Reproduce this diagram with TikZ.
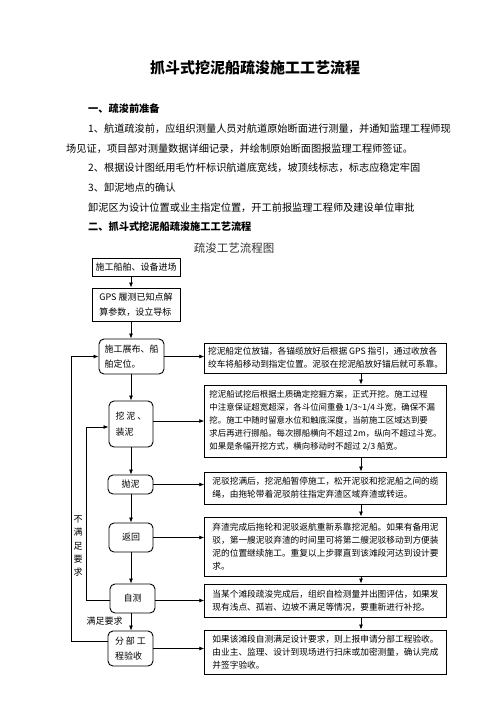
\documentclass[tikz,border=0pt]{standalone}
\usepackage{fontspec}
\setmainfont{Noto Sans CJK SC}
\usetikzlibrary{arrows.meta}
\newcommand\myfs[2]{\fontsize{#1pt}{#2pt}\selectfont}
\newcommand\ts{\hspace{1.2pt}}
\begin{document}
\begin{tikzpicture}[x=1pt,y=-1pt,
  sq/.style={draw, line width=0.9pt, inner sep=0pt, align=left, font=\myfs{9}{15.5}},
  rnd/.style={sq, rounded corners=5pt},
  rbox/.style={draw, line width=0.9pt, inner sep=0pt, align=left, font=\myfs{8.7}{13}, minimum width=241.5pt},
  arr/.style={-{Latex[length=5pt,width=4pt]}, line width=0.8pt},
  body/.style={anchor=west, inner sep=0pt, font=\myfs{10.2}{12}},
  lbl/.style={inner sep=0pt, font=\myfs{9}{13.3}, align=center}]
\useasboundingbox[fill=white] (0,0) rectangle (496,702);

% title and text
\node[inner sep=0pt, font=\myfs{15}{18}\bfseries] (title) at (255,68) {抓斗式挖泥船疏浚施工工艺流程};
\node[body, font=\myfs{10.2}{12}\bfseries] (h1) at (88,109) {一、疏浚前准备};
\node[body] (t1) at (88,129) {1、航道疏浚前，应组织测量人员对航道原始断面进行测量，并通知监理工程师现};
\node[body] (t2) at (66,149) {场见证，项目部对测量数据详细记录，并绘制原始断面图报监理工程师签证。};
\node[body] (t3) at (88,168) {2、根据设计图纸用毛竹杆标识航道底宽线，坡顶线标志，标志应稳定牢固};
\node[body] (t4) at (88,188) {3、卸泥地点的确认};
\node[body] (t5) at (88,208) {卸泥区为设计位置或业主指定位置，开工前报监理工程师及建设单位审批};
\node[body, font=\myfs{10.2}{12}\bfseries] (h2) at (88,227) {二、抓斗式挖泥船疏浚施工工艺流程};
\node[inner sep=0pt, font=\myfs{11.5}{14}, text=black!80] (ft) at (234,248) {疏浚工艺流程图};

% left column
\node[sq, minimum width=88pt, minimum height=18pt] (b1) at (136,267) {施工船舶、设备进场};
\node[sq, minimum width=88pt, minimum height=33pt] (b2) at (136,304.5) {GPS 履测已知点解\\算参数，设立导标};
\node[rnd, minimum width=65pt, minimum height=35pt] (b3) at (131.5,356.5) {施工展布、船\\舶定位。};
\node[rnd, minimum width=44pt, minimum height=46pt] (b4) at (131,424) {挖\hspace{2pt}泥\hspace{2pt}、\\装泥};
\node[rnd, minimum width=45pt, minimum height=19pt] (b5) at (130.5,484.5) {抛泥};
\node[rnd, minimum width=44pt, minimum height=29pt] (b6) at (131,537.5) {返回};
\node[rnd, minimum width=45pt, minimum height=29pt] (b7) at (132.5,598.5) {自测};
\node[rnd, minimum width=45pt, minimum height=35pt] (b8) at (130.5,648.5) {分\hspace{2pt}部\hspace{2pt}工\\程验收};

% right column
\node[rbox, minimum height=30pt] (r1) at (325.5,358) {挖泥船定位放锚，各锚缆放好后根据 GPS 指引，通过收放各\\绞车将船移动到指定位置。泥驳在挖泥船放好锚后就可系靠。};
\node[rbox, minimum height=72pt, font=\myfs{8.4}{13}] (r2) at (325.5,421) {挖泥船试挖后根据土质确定挖掘方案，正式开挖。施工过程\\中注意保证超宽超深，各斗位间重叠\ts{}1/3\textasciitilde{}1/4\ts{}斗宽，确保不漏\\挖。施工中随时留意水位和触底深度，当前施工区域达到要\\求后再进行挪船。每次挪船横向不超过\ts{}2m，纵向不超过斗宽。\\如果是条幅开挖方式，横向移动时不超过 2/3 船宽。};
\node[rbox, minimum height=32pt] (r3) at (325.5,488) {泥驳挖满后，挖泥船暂停施工，松开泥驳和挖泥船之间的缆\\绳，由拖轮带着泥驳前往指定弃渣区域弃渣或转运。};
\node[rbox, minimum height=59pt] (r4) at (325.5,546.5) {弃渣完成后拖轮和泥驳返航重新系靠挖泥船。如果有备用泥\\驳，第一艘泥驳弃渣的时间里可将第二艘泥驳移动到方便装\\泥的位置继续施工。重复以上步骤直到该滩段河达到设计要\\求。};
\node[rbox, minimum height=33pt] (r5) at (325.5,600.5) {当某个滩段疏浚完成后，组织自检测量并出图评估，如果发\\现有浅点、孤岩、边坡不满足等情况，要重新进行补挖。};
\node[rbox, minimum height=44pt] (r6) at (325.5,652) {如果该滩段自测满足设计要求，则上报申请分部工程验收。\\由业主、监理、设计到现场进行扫床或加密测量，确认完成\\并签字验收。};

\coordinate (lx) at (131,0);
\coordinate (vx) at (361,0);

% vertical arrows left
\draw[arr] (b1.south -| lx) -- (b2.north -| lx);
\draw[arr] (b2.south -| lx) -- (b3.north -| lx);
\draw[arr] (b3.south -| lx) -- (b4.north -| lx);
\draw[arr] (b4.south -| lx) -- (b5.north -| lx);
\draw[arr] (b5.south -| lx) -- (b6.north -| lx);
\draw[arr] (b6.south -| lx) -- (b7.north -| lx);
\draw[arr] (b7.south -| lx) -- (b8.north -| lx);

% vertical arrows right
\draw[arr] (r1.south -| vx) -- (r2.north -| vx);
\draw[arr] (r2.south -| vx) -- (r3.north -| vx);
\draw[arr] (r3.south -| vx) -- (r4.north -| vx);
\draw[arr] (r4.south -| vx) -- (r5.north -| vx);
\draw[arr] (r5.south -| vx) -- (r6.north -| vx);

% horizontal arrows
\draw[arr] (b3.east) -- (b3.east -| r1.west);
\draw[arr] ([yshift=3pt]b4.east) -- ([yshift=3pt]b4.east -| r2.west);
\draw[arr] (b5.east) -- (b5.east -| r3.west);
\draw[arr] (b6.east) -- (b6.east -| r4.west);
\draw[arr] ([yshift=-2pt]b7.east) -- ([yshift=-2pt]b7.east -| r5.west);
\draw[arr] (b8.east) -- (b8.east -| r6.west);

% feedback loops
\draw[arr] ([yshift=7pt]b8.west) -- ++(-36.5,0) |- (b3.west);
\draw[arr] ([yshift=-1.5pt]b7.west) -- ++(-23,0) |- ([yshift=-3pt]b4.west);

\node[lbl] (nm) at (78,546) {不\\满\\足\\要\\求};
\node[lbl] (ok) at (104.5,621) {满足要求};
\end{tikzpicture}
\end{document}
